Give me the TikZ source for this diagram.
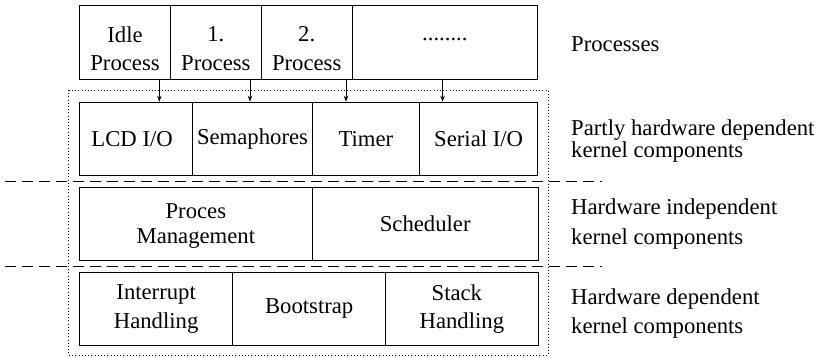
\documentclass[tikz,border=0pt]{standalone}
\usepackage{fontspec}
\setmainfont{Liberation Serif}
\usetikzlibrary{arrows.meta}
\tikzset{
  box/.style={draw, line width=1pt, inner sep=0pt, anchor=north west, align=center,
              font=\fontsize{22.7}{28.5}\selectfont},
  txt/.style={inner sep=0pt, align=center, font=\fontsize{22.7}{28.5}\selectfont},
  lbl/.style={inner sep=0pt, anchor=west, align=left},
  arr/.style={line width=0.8pt, -{Stealth[length=6pt,width=4.5pt]}},
  sep/.style={line width=0.8pt, dash pattern=on 11pt off 6pt},
  frame/.style={line width=1pt, dash pattern=on 1pt off 2.2pt}
}
\begin{document}
\begin{tikzpicture}[x=1pt,y=-1pt]
\useasboundingbox (0,0) rectangle (818,357);

% process row: boxes, then their captions set a little low
\node[box, minimum width=91pt,   minimum height=74pt] (idle) at (79,5)    {};
\node[box, minimum width=90.7pt, minimum height=74pt] (p1)   at (170,5)   {};
\node[box, minimum width=91pt,   minimum height=74pt] (p2)   at (260.7,5) {};
\node[box, minimum width=185.3pt,minimum height=74pt] (pn)   at (351.7,5) {};
\node[txt] (idlet) at ([yshift=-6pt]idle.center) {Idle\\Process};
\node[txt] (p1t)   at ([yshift=-6pt]p1.center)   {1.\\Process};
\node[txt] (p2t)   at ([yshift=-6pt]p2.center)   {2.\\Process};
\node[txt] (pnt)   at ([yshift=3pt]pn.center)    {........};

% partly hardware dependent components
\node[box, minimum width=113.3pt,minimum height=73.3pt] (lcd)   at (79,101.7)    {LCD I/O\hspace*{8pt}};
\node[box, minimum width=119.4pt,minimum height=73.3pt] (sema)  at (192.3,101.7) {Semaphores};
\node[box, minimum width=107.3pt,minimum height=73.3pt] (timer) at (311.7,101.7) {Timer};
\node[box, minimum width=118.3pt,minimum height=73.3pt] (ser)   at (419,101.7)   {Serial I/O};

% hardware independent components
\node[box, minimum width=232.7pt,minimum height=73.3pt] (pm) at (79,186.7) {};
\node[txt, font=\fontsize{22.7}{24.5}\selectfont] (pmt) at ([yshift=-2pt]pm.center) {Proces\\Management};
\node[box, minimum width=226pt,  minimum height=73.3pt] (sched) at (311.7,186.7) {Scheduler};

% hardware dependent components
\node[box, minimum width=153.3pt,minimum height=73.3pt] (intr)  at (79,271.7)    {Interrupt\\Handling};
\node[box, minimum width=152.7pt,minimum height=73.3pt] (boot)  at (232.3,271.7) {Bootstrap};
\node[box, minimum width=152.7pt,minimum height=73.3pt] (stack) at (385,271.7)   {Stack\hspace*{10pt}\\Handling};

% calls from the processes into the kernel
\draw[arr] ([xshift=-11.7pt]idle.south east) -- ([xshift=-11.7pt]idle.south east |- lcd.north);
\draw[arr] ([xshift=-11.7pt]p1.south east)   -- ([xshift=-11.7pt]p1.south east |- sema.north);
\draw[arr] ([xshift=-6.7pt]p2.south east)    -- ([xshift=-6.7pt]p2.south east |- timer.north);
\draw[arr] ([xshift=-2.3pt]pn.south)         -- ([xshift=-2.3pt]pn.south |- ser.north);

% kernel frame
\coordinate (ktl) at (68.3,90);
\coordinate (kbr) at (548,355);
\draw[frame] (ktl) rectangle (kbr);

% layer separators
\coordinate (s1a) at (5,181);   \coordinate (s1b) at (602,181);
\coordinate (s2a) at (5,266.5); \coordinate (s2b) at (602,266.5);
\draw[sep] (s1a) -- (s1b);
\draw[sep] (s2a) -- (s2b);

% layer descriptions
\node[lbl, font=\fontsize{22.7}{28}\selectfont] (lp) at (571,44) {Processes};
\node[lbl, font=\fontsize{22.7}{22.5}\selectfont] (lk1) at (571,141) {Partly hardware dependent\\kernel components};
\node[lbl, font=\fontsize{22.7}{30}\selectfont] (lk2) at (571,224) {Hardware independent\\kernel components};
\node[lbl, font=\fontsize{22.7}{29.5}\selectfont] (lk3) at (571,313.5) {Hardware dependent\\kernel components};
\end{tikzpicture}
\end{document}
